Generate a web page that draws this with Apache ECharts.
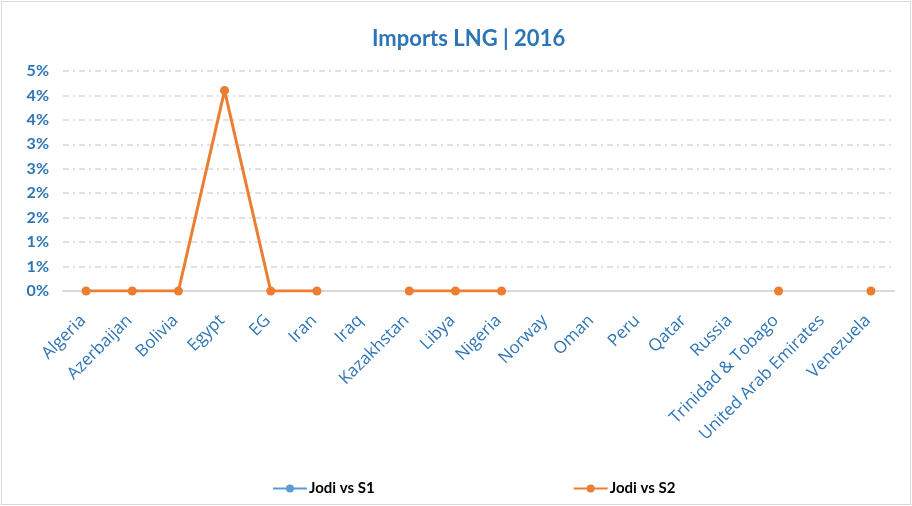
<!DOCTYPE html>
<html>
<head>
<meta charset="utf-8">
<script src="https://cdn.jsdelivr.net/npm/echarts@6/dist/echarts.min.js"></script>
<style>
  html, body { margin: 0; padding: 0; background: #fff; }
  #chart { width: 908px; height: 502px; border: 1px solid #d9d9d9; margin: 1px; }
</style>
</head>
<body>
<div id="chart"></div>
<script>
// 数据
const countries = ['Algeria', 'Azerbaijan', 'Bolivia', 'Egypt', 'EG', 'Iran', 'Iraq', 'Kazakhstan', 'Libya', 'Nigeria',
    'Norway', 'Oman', 'Peru', 'Qatar', 'Russia', 'Trinidad & Tobago', 'United Arab Emirates', 'Venezuela'];
// values in percent
const jodiVsS1 = [null, null, null, null, null, null, null, null, null, null,
    null, null, null, null, null, null, null, null];
const jodiVsS2 = [0, 0, 0, 4.1, 0, 0, null, 0, 0, 0,
    null, null, null, null, null, 0, null, 0];

const chart = echarts.init(document.getElementById('chart'));

const option = {
    title: {
        text: 'Imports LNG | 2016',
        left: 365,
        top: 21,
        textStyle: { color: '#2E75B6', fontSize: 22, fontWeight: 'bold', fontFamily: 'Lato' }
    },
    legend: {
        bottom: 3,
        left: 265,
        itemGap: 198,
        itemWidth: 34,
        itemHeight: 10,
        textStyle: { color: '#000', fontSize: 15, fontWeight: 'bold', fontFamily: 'Lato', padding: [0, 0, 0, -3] },
        data: ['Jodi vs S1', 'Jodi vs S2']
    },
    grid: { left: 61, right: 16, top: 69, bottom: 213 },
    xAxis: {
        type: 'category',
        data: countries,
        boundaryGap: true,
        axisLine: { lineStyle: { color: '#d9d9d9', width: 2 } },
        axisTick: { show: false },
        axisLabel: {
            rotate: 45,
            interval: 0,
            color: '#2E75B6',
            fontSize: 17,
            fontFamily: 'Open Sans',
            margin: 24,
            padding: [0, 4, 0, 0]
        }
    },
    yAxis: {
        type: 'value',
        min: 0,
        max: 4.5,
        interval: 0.5,
        axisLine: { show: false },
        axisTick: { show: false },
        axisLabel: {
            color: '#2E75B6',
            fontSize: 16,
            fontWeight: 'bold',
            fontFamily: 'Lato',
            margin: 14,
            formatter: v => Math.round(v) + '%'
        },
        splitLine: { lineStyle: { color: '#d9d9d9', width: 1.5, type: [6, 4, 2, 4] } }
    },
    series: [
        {
            name: 'Jodi vs S1',
            type: 'line',
            data: jodiVsS1,
            symbol: 'circle',
            symbolSize: 9,
            itemStyle: { color: '#5B9BD5' },
            lineStyle: { color: '#5B9BD5', width: 3 }
        },
        {
            name: 'Jodi vs S2',
            type: 'line',
            data: jodiVsS2,
            symbol: 'circle',
            symbolSize: 9,
            connectNulls: false,
            itemStyle: { color: '#ED7D31' },
            lineStyle: { color: '#ED7D31', width: 3 }
        }
    ]
};

chart.setOption(option);
</script>
</body>
</html>
